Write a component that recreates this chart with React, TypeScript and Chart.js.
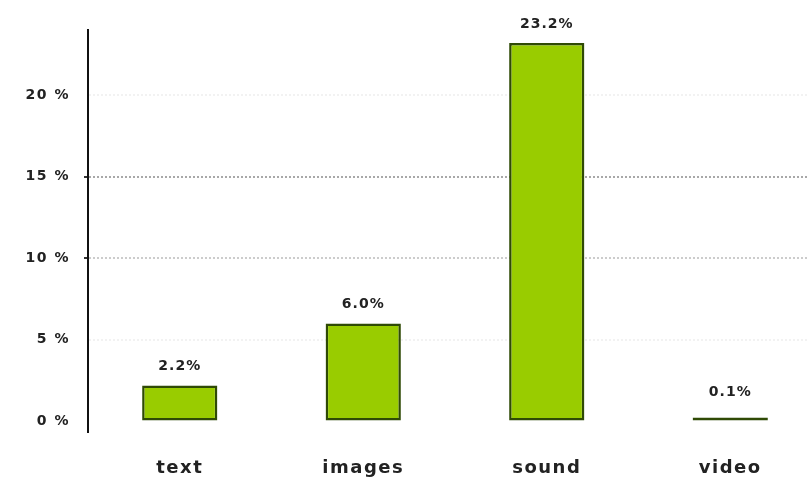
import React, { useEffect, useRef } from "react";
import { Chart, registerables } from "chart.js";

Chart.register(...registerables);

const categories = ["text", "images", "sound", "video"];
const shares = [2.2, 6.0, 23.2, 0.1];
const yTicks = [0, 5, 10, 15, 20];
const strongGrid = [10, 15];

const FONT = "'DejaVu Sans', 'Liberation Sans', Arial, sans-serif";

const spacing = {
  id: "spacing",
  beforeUpdate(chart: any) {
    (chart.ctx as any).letterSpacing = "1.5px";
  },
  beforeDraw(chart: any) {
    (chart.ctx as any).letterSpacing = "1.5px";
  },
};

const valueLabels = {
  id: "valueLabels",
  afterDatasetsDraw(chart: any) {
    const ctx = chart.ctx;
    const meta = chart.getDatasetMeta(0);
    ctx.save();
    (ctx as any).letterSpacing = "1px";
    ctx.font = "bold 14px " + FONT;
    ctx.fillStyle = "#222";
    ctx.textAlign = "center";
    ctx.textBaseline = "bottom";
    meta.data.forEach((bar: any, i: number) => {
      const v = chart.data.datasets[0].data[i] as number;
      const gap = v < 1 ? 18 : 12;
      ctx.fillText(v.toFixed(1) + "%", bar.x, bar.y - gap);
    });
    ctx.restore();
  },
};

export default function App() {
  const ref = useRef<HTMLCanvasElement | null>(null);
  useEffect(() => {
    document.body.style.margin = "0";
    const chart = new Chart(ref.current as HTMLCanvasElement, {
      type: "bar",
      data: {
        labels: categories,
        datasets: [
          {
            data: shares,
            backgroundColor: "#99cc00",
            borderColor: "#2f4a05",
            borderWidth: 2.5,
            borderSkipped: false,
            minBarLength: 4,
            barPercentage: 0.41,
            categoryPercentage: 1,
          },
        ],
      },
      options: {
        animation: false,
        responsive: false,
        maintainAspectRatio: false,
        layout: { padding: { top: 30, left: 0, right: 0, bottom: 0 } },
        plugins: { legend: { display: false }, tooltip: { enabled: false } },
        scales: {
          x: {
            grid: { display: false, drawTicks: false },
            border: { display: false },
            afterFit: (axis: any) => {
              axis.height = 55;
            },
            ticks: {
              padding: 26,
              maxRotation: 0,
              color: "#222",
              font: { family: FONT, size: 18, weight: "bold" },
            },
          },
          y: {
            min: -0.65,
            max: 24,
            afterBuildTicks: (axis: any) => {
              axis.ticks = yTicks.map((v) => ({ value: v }));
            },
            afterFit: (axis: any) => {
              axis.width = 88;
            },
            border: { display: true, color: "#111", width: 2, dash: [2, 2] },
            grid: {
              color: (c: any) =>
                c.tick && c.tick.value === 15
                  ? "#a8a8a8"
                  : c.tick && c.tick.value === 10
                  ? "#cccccc"
                  : c.tick && c.tick.value === 0
                  ? "rgba(0,0,0,0)"
                  : "#f2f2f2",
              lineWidth: 2,
              tickLength: 4,
              tickColor: (c: any) =>
                c.tick && strongGrid.includes(c.tick.value) ? "#333" : "rgba(0,0,0,0)",
              tickBorderDash: [],
            } as any,
            ticks: {
              padding: 14,
              color: "#222",
              font: { family: FONT, size: 14, weight: "bold" },
              callback: (v: any) => v + " %",
            },
          },
        },
      },
      plugins: [spacing, valueLabels],
    } as any);
    return () => chart.destroy();
  }, []);
  return (
    <div style={{ width: 807, height: 487, overflow: "hidden", position: "relative", background: "#fff" }}>
      <canvas ref={ref} width={822} height={487} style={{ display: "block" }} />
    </div>
  );
}
